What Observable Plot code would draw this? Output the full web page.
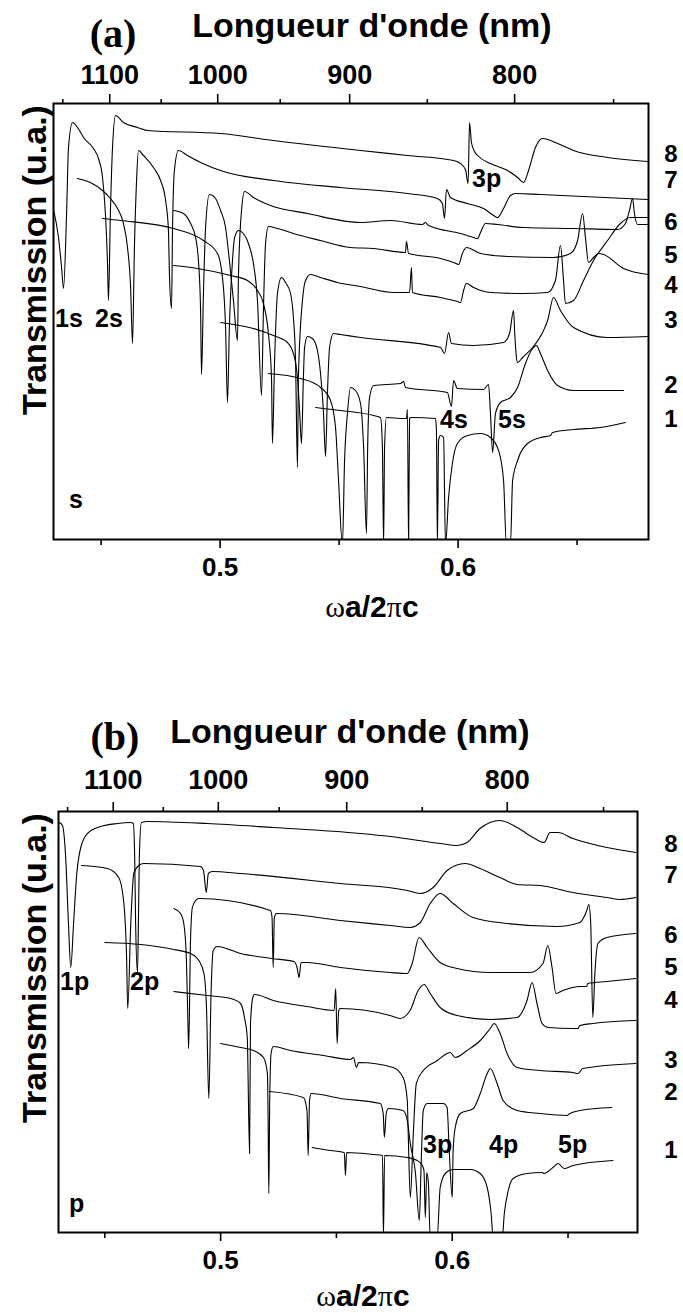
<!DOCTYPE html>
<html><head><meta charset="utf-8">
<script src="https://cdn.jsdelivr.net/npm/d3@7"></script>
<script src="https://cdn.jsdelivr.net/npm/@observablehq/plot@0.6"></script>
<style>
body{margin:0;background:#fff;}
#wrap{position:relative;width:683px;height:1313px;overflow:hidden;background:#fff;}
#pa,#pb{position:absolute;left:0;}
#pa{top:0px}
#pb{top:660px}
</style></head><body><div id="wrap"><div id="pa"></div><div id="pb"></div></div>
<script>
// ---- axis data ----
const latticeNm = 499;                       // a (nm): wavelength = a / (ωa/2πc)
const wavelengthMajor = [1100, 1000, 900, 800];
const wavelengthMinor = [1150, 1050, 950, 850, 750];
const freqMajor = [0.5, 0.6];
const freqMinor = [0.45, 0.55, 0.65];
const spectrumLabels = ["8", "7", "6", "5", "4", "3", "2", "1"];
const modeLabelsS = ["1s", "2s", "3p", "4s", "5s"];
const modeLabelsP = ["1p", "2p", "3p", "4p", "5p"];

// ---- panel (a): s polarisation, [ωa/2πc, transmission (u.a.)] ----
const sA8 = [[0.4301,3.29],[0.4321,3.02],[0.4334,2.72],[0.4342,2.51],[0.4355,3.26],[0.4363,3.92],[0.4380,4.17],[0.4401,4.12],[0.4426,4.02],[0.4468,3.91],[0.4489,3.81],[0.4506,3.62],[0.4518,3.26],[0.4527,2.76],[0.4531,2.39],[0.4539,3.26],[0.4548,3.92],[0.4561,4.24],[0.4594,4.17],[0.4653,4.12],[0.4695,4.09],[0.5002,4.06],[0.5224,3.99],[0.5590,3.89],[0.5787,3.84],[0.5981,3.79],[0.6010,3.76],[0.6031,3.70],[0.6042,3.56],[0.6048,4.17],[0.6056,3.97],[0.6069,3.88],[0.6082,3.84],[0.6136,3.76],[0.6208,3.69],[0.6250,3.62],[0.6275,3.57],[0.6296,3.69],[0.6325,3.92],[0.6355,4.01],[0.6418,3.96],[0.6485,3.89],[0.6628,3.82],[0.6796,3.78]];
const sA7 = [[0.4400,3.61],[0.4455,3.57],[0.4506,3.49],[0.4539,3.41],[0.4569,3.31],[0.4594,3.16],[0.4611,2.92],[0.4624,2.52],[0.4632,1.96],[0.4640,2.92],[0.4649,3.59],[0.4657,3.89],[0.4678,3.84],[0.4720,3.72],[0.4750,3.59],[0.4771,3.39],[0.4783,3.09],[0.4787,2.66],[0.4796,2.31],[0.4800,3.09],[0.4808,3.69],[0.4825,3.89],[0.4863,3.84],[0.4918,3.77],[0.5014,3.68],[0.5224,3.59],[0.5506,3.52],[0.5787,3.46],[0.5913,3.41],[0.5934,3.36],[0.5943,3.21],[0.5951,3.50],[0.5968,3.42],[0.6039,3.36],[0.6107,3.31],[0.6149,3.24],[0.6166,3.22],[0.6191,3.31],[0.6220,3.44],[0.6241,3.46],[0.6346,3.45],[0.6800,3.40]];
const sA6 = [[0.4506,3.21],[0.4582,3.19],[0.4804,3.11],[0.4930,2.99],[0.4989,2.86],[0.5010,2.62],[0.5023,2.12],[0.5031,1.37],[0.5039,2.12],[0.5052,2.79],[0.5061,3.02],[0.5077,3.09],[0.5098,3.06],[0.5119,2.96],[0.5140,2.76],[0.5157,2.39],[0.5174,1.44],[0.5182,2.29],[0.5191,2.96],[0.5203,3.13],[0.5241,3.11],[0.5308,3.06],[0.5422,2.99],[0.5548,2.92],[0.5645,2.91],[0.5779,2.87],[0.5783,2.98],[0.5792,2.86],[0.5926,2.81],[0.5981,2.77],[0.6002,2.75],[0.6018,2.86],[0.6035,2.92],[0.6094,2.86],[0.6208,2.83],[0.6401,2.82],[0.6472,2.86],[0.6502,2.99],[0.6523,3.26],[0.6535,3.02],[0.6548,2.77],[0.6569,2.82],[0.6590,2.86],[0.6611,2.85],[0.6695,2.71],[0.6800,2.65]];
const sA5 = [[0.4804,3.29],[0.4846,3.26],[0.4876,3.16],[0.4897,3.02],[0.4909,2.79],[0.4918,2.29],[0.4922,1.65],[0.4930,2.46],[0.4939,3.12],[0.4955,3.45],[0.4981,3.41],[0.5002,3.29],[0.5023,3.12],[0.5039,2.79],[0.5056,2.39],[0.5073,1.99],[0.5077,2.62],[0.5090,3.29],[0.5103,3.48],[0.5140,3.42],[0.5212,3.34],[0.5367,3.26],[0.5590,3.17],[0.5716,3.19],[0.5850,3.15],[0.5863,3.17],[0.5876,3.14],[0.6010,3.06],[0.6052,3.03],[0.6082,3.01],[0.6094,3.07],[0.6115,3.16],[0.6166,3.15],[0.6275,3.12],[0.6485,3.11],[0.6670,3.10],[0.6703,3.16],[0.6720,3.29],[0.6733,3.41],[0.6741,3.26],[0.6754,3.15],[0.6800,3.15]];
const sA4 = [[0.4804,2.74],[0.4905,2.71],[0.5044,2.64],[0.5115,2.59],[0.5157,2.49],[0.5182,2.36],[0.5203,2.06],[0.5216,1.62],[0.5220,0.96],[0.5229,1.79],[0.5241,2.46],[0.5258,2.62],[0.5275,2.57],[0.5296,2.46],[0.5308,2.22],[0.5317,1.79],[0.5325,0.72],[0.5329,1.62],[0.5346,2.39],[0.5359,2.59],[0.5380,2.65],[0.5422,2.62],[0.5493,2.57],[0.5590,2.53],[0.5729,2.47],[0.5796,2.47],[0.5804,2.72],[0.5808,2.47],[0.5926,2.42],[0.5997,2.38],[0.6010,2.37],[0.6023,2.49],[0.6035,2.56],[0.6065,2.52],[0.6136,2.47],[0.6275,2.46],[0.6376,2.47],[0.6409,2.59],[0.6430,2.94],[0.6443,2.59],[0.6451,2.36],[0.6485,2.39],[0.6527,2.59],[0.6569,2.79],[0.6628,2.99],[0.6682,3.16],[0.6724,3.22],[0.6800,3.22]];
const sA3 = [[0.5002,2.17],[0.5140,2.11],[0.5224,2.04],[0.5283,1.97],[0.5308,1.86],[0.5325,1.62],[0.5334,1.29],[0.5342,0.96],[0.5350,1.62],[0.5355,1.92],[0.5367,2.03],[0.5388,2.01],[0.5409,1.89],[0.5422,1.66],[0.5434,1.29],[0.5443,0.83],[0.5451,1.46],[0.5460,1.92],[0.5476,2.06],[0.5506,2.05],[0.5590,2.02],[0.5926,1.92],[0.5943,1.86],[0.5960,2.07],[0.5972,1.96],[0.6065,1.94],[0.6191,1.97],[0.6216,2.06],[0.6233,2.29],[0.6238,2.06],[0.6245,1.82],[0.6250,1.77],[0.6271,1.82],[0.6313,1.92],[0.6359,2.09],[0.6376,2.19],[0.6401,2.42],[0.6430,2.29],[0.6485,2.12],[0.6628,2.02],[0.6796,2.03]];
const sA2 = [[0.5203,1.66],[0.5338,1.61],[0.5422,1.52],[0.5464,1.39],[0.5485,1.12],[0.5497,0.62],[0.5514,-0.05],[0.5523,0.79],[0.5535,1.26],[0.5548,1.52],[0.5569,1.49],[0.5590,1.36],[0.5603,0.92],[0.5615,0.06],[0.5620,0.92],[0.5628,1.42],[0.5645,1.54],[0.5758,1.56],[0.5771,1.58],[0.5779,1.52],[0.5955,1.47],[0.5972,1.33],[0.5981,1.59],[0.5997,1.51],[0.6107,1.50],[0.6128,1.55],[0.6136,1.26],[0.6145,0.87],[0.6157,1.26],[0.6178,1.37],[0.6220,1.42],[0.6250,1.52],[0.6283,1.76],[0.6313,1.91],[0.6329,1.94],[0.6346,1.86],[0.6376,1.69],[0.6418,1.54],[0.6485,1.49],[0.6695,1.49]];
const sA1 = [[0.5401,1.32],[0.5506,1.29],[0.5645,1.24],[0.5674,1.22],[0.5682,0.92],[0.5687,-0.05],[0.5691,0.92],[0.5699,1.22],[0.5771,1.21],[0.5783,1.21],[0.5787,1.30],[0.5792,-0.05],[0.5796,1.21],[0.5804,1.22],[0.5905,1.21],[0.5909,1.09],[0.5913,-0.05],[0.5918,0.99],[0.5926,1.04],[0.5939,1.02],[0.5947,-0.05],[0.5960,0.42],[0.5976,0.76],[0.5997,0.96],[0.6039,1.04],[0.6094,1.06],[0.6136,1.02],[0.6170,0.89],[0.6191,0.59],[0.6203,-0.05],[0.6220,-0.05],[0.6229,0.59],[0.6250,0.79],[0.6292,0.96],[0.6346,1.02],[0.6388,1.04],[0.6397,1.07],[0.6485,1.10],[0.6598,1.12],[0.6703,1.17]];

// ---- panel (b): p polarisation ----
const pB8 = [[0.4303,4.10],[0.4317,4.07],[0.4331,3.75],[0.4343,3.09],[0.4353,2.65],[0.4365,3.09],[0.4379,3.59],[0.4396,3.85],[0.4425,3.99],[0.4482,4.06],[0.4554,4.09],[0.4612,4.10],[0.4623,4.09],[0.4629,3.75],[0.4633,3.09],[0.4641,2.60],[0.4645,3.09],[0.4649,3.75],[0.4658,4.10],[0.4684,4.11],[0.4942,4.09],[0.5228,4.05],[0.5603,3.99],[0.5732,3.96],[0.5948,3.89],[0.6021,3.87],[0.6064,3.90],[0.6120,4.04],[0.6206,4.12],[0.6280,4.05],[0.6349,3.95],[0.6397,3.90],[0.6422,4.00],[0.6457,4.00],[0.6521,3.94],[0.6668,3.85],[0.6793,3.80]];
const pB7 = [[0.4399,3.67],[0.4511,3.64],[0.4560,3.55],[0.4581,3.32],[0.4594,2.75],[0.4599,2.24],[0.4612,3.09],[0.4625,3.59],[0.4646,3.67],[0.4668,3.69],[0.4913,3.66],[0.4926,3.62],[0.4938,3.40],[0.4947,3.59],[0.4964,3.61],[0.5086,3.59],[0.5517,3.49],[0.5806,3.42],[0.5862,3.39],[0.5918,3.45],[0.5978,3.62],[0.6056,3.69],[0.6120,3.64],[0.6206,3.55],[0.6280,3.48],[0.6379,3.47],[0.6521,3.40],[0.6668,3.35],[0.6724,3.33],[0.6793,3.35]];
const pB6 = [[0.4798,3.24],[0.4827,3.19],[0.4841,3.09],[0.4852,2.75],[0.4859,2.09],[0.4862,1.84],[0.4870,2.92],[0.4878,3.25],[0.4892,3.32],[0.4906,3.34],[0.5215,3.22],[0.5222,3.15],[0.5227,2.65],[0.5232,3.15],[0.5241,3.19],[0.5517,3.12],[0.5732,3.07],[0.5818,3.05],[0.5862,3.10],[0.5905,3.29],[0.5948,3.39],[0.6004,3.29],[0.6090,3.15],[0.6237,3.09],[0.6452,3.06],[0.6551,3.10],[0.6581,3.22],[0.6590,3.28],[0.6598,3.09],[0.6607,2.15],[0.6616,2.59],[0.6629,2.89],[0.6668,2.95],[0.6793,2.99]];
const pB5 = [[0.4500,2.90],[0.4655,2.88],[0.4798,2.83],[0.4870,2.79],[0.4906,2.72],[0.4928,2.59],[0.4939,2.25],[0.4949,1.34],[0.4959,2.42],[0.4968,2.82],[0.4985,2.86],[0.5086,2.79],[0.5222,2.74],[0.5316,2.71],[0.5330,2.65],[0.5339,2.55],[0.5347,2.70],[0.5373,2.70],[0.5517,2.65],[0.5732,2.60],[0.5806,2.59],[0.5827,2.69],[0.5857,2.95],[0.5892,2.85],[0.5948,2.70],[0.6021,2.64],[0.6164,2.60],[0.6336,2.60],[0.6392,2.69],[0.6413,2.87],[0.6431,2.65],[0.6448,2.39],[0.6478,2.42],[0.6551,2.46],[0.6581,2.46],[0.6585,2.49],[0.6668,2.51],[0.6793,2.54]];
const pB4 = [[0.4798,2.41],[0.4942,2.37],[0.5043,2.34],[0.5086,2.29],[0.5103,2.15],[0.5115,1.95],[0.5125,0.79],[0.5129,2.09],[0.5139,2.35],[0.5146,2.38],[0.5228,2.32],[0.5373,2.26],[0.5490,2.22],[0.5497,2.44],[0.5503,1.89],[0.5510,2.22],[0.5517,2.24],[0.5732,2.17],[0.5775,2.14],[0.5818,2.22],[0.5853,2.42],[0.5879,2.48],[0.5905,2.39],[0.5948,2.25],[0.6021,2.17],[0.6164,2.13],[0.6280,2.15],[0.6323,2.32],[0.6345,2.50],[0.6366,2.29],[0.6388,2.09],[0.6414,2.05],[0.6521,2.04],[0.6543,2.04],[0.6551,2.07],[0.6607,2.09],[0.6793,2.12]];
const pB3 = [[0.5000,1.89],[0.5086,1.85],[0.5142,1.82],[0.5185,1.75],[0.5202,1.59],[0.5205,1.15],[0.5208,0.39],[0.5212,1.32],[0.5218,1.79],[0.5227,1.86],[0.5301,1.82],[0.5445,1.77],[0.5560,1.73],[0.5574,1.75],[0.5586,1.65],[0.5596,1.70],[0.5745,1.65],[0.5788,1.55],[0.5806,1.32],[0.5810,0.99],[0.5819,0.35],[0.5832,0.99],[0.5845,1.49],[0.5875,1.62],[0.5936,1.72],[0.5978,1.79],[0.5991,1.80],[0.6013,1.75],[0.6064,1.82],[0.6121,1.92],[0.6164,2.04],[0.6181,2.09],[0.6207,1.99],[0.6237,1.79],[0.6280,1.65],[0.6379,1.62],[0.6521,1.60],[0.6543,1.59],[0.6564,1.64],[0.6793,1.69]];
const pB2 = [[0.5211,1.41],[0.5357,1.35],[0.5373,1.22],[0.5378,0.77],[0.5384,1.32],[0.5391,1.39],[0.5517,1.34],[0.5689,1.29],[0.5702,1.19],[0.5707,0.95],[0.5715,1.19],[0.5724,1.24],[0.5788,1.22],[0.5806,1.12],[0.5819,0.89],[0.5841,0.60],[0.5858,0.12],[0.5866,0.70],[0.5875,1.22],[0.5892,1.29],[0.5961,1.29],[0.5978,1.25],[0.5987,0.82],[0.6000,0.35],[0.6004,0.82],[0.6013,1.05],[0.6035,1.19],[0.6091,1.24],[0.6121,1.39],[0.6151,1.59],[0.6164,1.64],[0.6194,1.49],[0.6220,1.32],[0.6280,1.22],[0.6379,1.19],[0.6495,1.17],[0.6508,1.19],[0.6551,1.22],[0.6689,1.25]];
const pB1 = [[0.5395,0.85],[0.5474,0.82],[0.5534,0.80],[0.5539,0.57],[0.5544,0.80],[0.5659,0.78],[0.5699,0.77],[0.5703,-0.05],[0.5708,0.77],[0.5806,0.75],[0.5849,0.72],[0.5871,0.67],[0.5878,0.62],[0.5884,0.15],[0.5890,0.60],[0.5897,0.50],[0.5905,-0.05],[0.5935,-0.05],[0.5948,0.45],[0.5970,0.59],[0.6004,0.63],[0.6078,0.63],[0.6121,0.59],[0.6151,0.45],[0.6168,0.19],[0.6177,-0.05],[0.6216,-0.05],[0.6225,0.19],[0.6242,0.42],[0.6263,0.54],[0.6323,0.59],[0.6388,0.60],[0.6396,0.59],[0.6435,0.65],[0.6457,0.69],[0.6483,0.64],[0.6521,0.67],[0.6694,0.72]];

const SANS = "'Liberation Sans', Arial, Helvetica, sans-serif";
const SERIF = "'Liberation Serif', 'Times New Roman', serif";

function drawPanel(el, cfg) {
  const plot = Plot.plot({
    width: 683, height: cfg.h,
    marginTop: cfg.mt, marginBottom: cfg.mb, marginLeft: cfg.ml, marginRight: cfg.mr,
    x: {domain: [0.43, 0.68], axis: null},
    y: {domain: [0, cfg.ymax], axis: null},
    style: {fontFamily: SANS, fontSize: "26px", fontWeight: "bold", background: "white", color: "black", overflow: "visible"},
    marks: [
      ...cfg.curves.map(c => Plot.line(c, {x: d => d[0], y: d => d[1], curve: "monotone-x", stroke: "black", strokeWidth: 1.1, clip: true})),
      Plot.frame({stroke: "black", strokeWidth: 2}),
      Plot.axisX({anchor: "bottom", ticks: freqMajor, tickSize: 9, tickPadding: 9, tickFormat: d3.format(".1f"), label: null, strokeWidth: 1.6}),
      Plot.axisX({anchor: "bottom", ticks: freqMinor, tickSize: 6, tickFormat: () => "", label: null, strokeWidth: 1.6}),
      Plot.axisX({anchor: "top", ticks: wavelengthMajor.map(l => latticeNm / l), tickSize: 10, tickPadding: cfg.topPad,
                  tickFormat: u => String(Math.round(latticeNm / u / 10) * 10), label: null, strokeWidth: 1.6, fontSize: 27}),
      Plot.axisX({anchor: "top", ticks: wavelengthMinor.map(l => latticeNm / l), tickSize: 5, tickFormat: () => "", label: null, strokeWidth: 1.6})
    ]
  });
  el.appendChild(plot);
  return d3.select(plot);
}

function addText(svg, x, y, s, size, anchor = "start", family = SANS, weight = "bold") {
  return svg.append("text").attr("x", x).attr("y", y).attr("text-anchor", anchor)
    .style("font-family", family).style("font-weight", weight).style("font-size", size + "px")
    .attr("fill", "black").text(s);
}
function addYLabel(svg, x, cy) {
  svg.append("text").attr("transform", `translate(${x},${cy}) rotate(-90)`).attr("text-anchor", "middle")
    .style("font-family", SANS).style("font-weight", "bold").style("font-size", "34px").attr("fill", "black")
    .text("Transmission (u.a.)");
}
function addXLabel(svg, cx, by) {
  const t = svg.append("text").attr("x", cx).attr("y", by).attr("text-anchor", "middle")
    .style("font-family", SANS).style("font-weight", "bold").style("font-size", "30px").attr("fill", "black");
  t.append("tspan").style("font-family", SERIF).style("font-weight", "normal").text("ω");
  t.append("tspan").text("a/2");
  t.append("tspan").style("font-family", SERIF).style("font-weight", "normal").text("π");
  t.append("tspan").text("c");
}

// ---- panel (a) ----
const svgA = drawPanel(document.getElementById("pa"), {
  h: 650, mt: 103, mb: 111, ml: 53, mr: 35, ymax: 4.36, topPad: 10,
  curves: [sA8, sA7, sA6, sA5, sA4, sA3, sA2, sA1]
});
addText(svgA, 113, 47, "(a)", 40, "middle", SERIF, "bold");
addText(svgA, 372, 37, "Longueur d'onde (nm)", 34, "middle");
addYLabel(svgA, 46, 260);
addXLabel(svgA, 372, 617);
[162, 188, 230, 263, 293, 328, 393, 427].forEach((y, i) => addText(svgA, 671, y, spectrumLabels[i], 24, "middle"));
addText(svgA, 55, 327, modeLabelsS[0], 25);
addText(svgA, 95, 327, modeLabelsS[1], 25);
addText(svgA, 472, 187, modeLabelsS[2], 25);
addText(svgA, 440, 428, modeLabelsS[3], 25);
addText(svgA, 498, 428, modeLabelsS[4], 25);
addText(svgA, 69, 508, "s", 25);

// ---- panel (b) ----
const svgB = drawPanel(document.getElementById("pb"), {
  h: 653, mt: 151, mb: 81, ml: 58, mr: 46, ymax: 4.21, topPad: 13,
  curves: [pB8, pB7, pB6, pB5, pB4, pB3, pB2, pB1]
});
addText(svgB, 115, 90, "(b)", 40, "middle", SERIF, "bold");
addText(svgB, 350, 83, "Longueur d'onde (nm)", 34, "middle");
addYLabel(svgB, 46, 308);
addXLabel(svgB, 363, 646);
[192, 223, 283, 315, 348, 408, 440, 498].forEach((y, i) => addText(svgB, 671, y, spectrumLabels[i], 24, "middle"));
addText(svgB, 60, 330, modeLabelsP[0], 25);
addText(svgB, 130, 330, modeLabelsP[1], 25);
addText(svgB, 423, 493, modeLabelsP[2], 25);
addText(svgB, 489, 493, modeLabelsP[3], 25);
addText(svgB, 558, 493, modeLabelsP[4], 25);
addText(svgB, 69, 552, "p", 25);
</script></body></html>
